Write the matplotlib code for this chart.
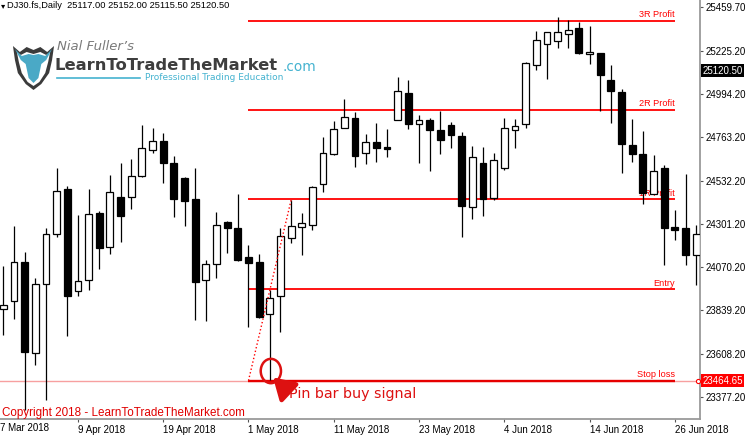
import matplotlib.pyplot as plt
from matplotlib.patches import Rectangle, Ellipse, Polygon
from matplotlib.transforms import blended_transform_factory

# DJ30 daily candles (one per trading day, left to right)
opens = [23847, 23890, 24098, 23612, 23980, 24247, 24488, 23943, 24002, 24360,
         24178, 24445, 24445, 24557, 24696, 24744, 24627, 24547, 24434, 24002,
         24087, 24312, 24280, 24125, 24098, 23820, 23916, 24226, 24285, 24296,
         24514, 24675, 24814, 24867, 24680, 24739, 24712, 24856, 25000, 24835,
         24856, 24803, 24830, 24771, 24392, 24627, 24440, 24600, 24803, 24835,
         25150, 25262, 25278, 25315, 25348, 25209, 25214, 25070, 25006, 24723,
         24675, 24461, 24600, 24285, 24280, 24135]
highs = [24077, 24290, 24151, 24012, 24280, 24600, 24504, 24349, 24488, 24370,
         24562, 24627, 24648, 24830, 24814, 24787, 24664, 24552, 24600, 24109,
         24365, 24317, 24461, 24189, 24141, 23948, 24280, 24429, 24360, 24504,
         24765, 24851, 24968, 24899, 24781, 24840, 24808, 25086, 25070, 24883,
         24867, 24904, 24846, 24792, 24717, 24712, 24680, 24867, 24862, 25166,
         25332, 25326, 25406, 25390, 25380, 25358, 25214, 25150, 25022, 24862,
         24797, 24669, 24616, 24376, 24568, 24296]
lows = [23708, 23794, 23308, 23548, 23361, 24231, 23703, 23916, 23948, 24060,
        24141, 24205, 24381, 24552, 24680, 24520, 24338, 24290, 23788, 23783,
        24012, 24146, 24103, 23751, 23799, 23470, 23724, 24199, 24135, 24269,
        24472, 24669, 24814, 24605, 24621, 24632, 24659, 24856, 24808, 24627,
        24584, 24675, 24707, 24231, 24328, 24344, 24429, 24589, 24707, 24814,
        25123, 25075, 25241, 25241, 25209, 25155, 24904, 24840, 24573, 24632,
        24408, 24461, 24082, 24216, 24082, 23975]
closes = [23868, 24098, 23617, 23980, 24247, 24477, 23916, 23996, 24354, 24173,
          24472, 24344, 24557, 24707, 24744, 24627, 24434, 24424, 23991, 24087,
          24296, 24280, 24109, 24093, 23805, 23906, 24237, 24290, 24306, 24498,
          24680, 24808, 24872, 24664, 24739, 24707, 24701, 25011, 24835, 24856,
          24803, 24749, 24776, 24397, 24659, 24434, 24643, 24814, 24824, 25161,
          25283, 25326, 25326, 25337, 25214, 25219, 25097, 25011, 24728, 24675,
          24466, 24584, 24280, 24269, 24135, 24247]

date_ticks = [8, 16, 24, 32, 40, 48, 56, 64]
date_labels = ["9 Apr 2018", "19 Apr 2018", "1 May 2018", "11 May 2018",
               "23 May 2018", "4 Jun 2018", "14 Jun 2018", "26 Jun 2018"]
first_label = "7 Mar 2018"
price_ticks = [25459.70, 25225.20, 24994.20, 24763.20, 24532.20,
               24301.20, 24070.20, 23839.20, 23608.20, 23377.20]

stop_loss = 23464.65
levels = [("Entry", 23952), ("1R Profit", 24432), ("2R Profit", 24910), ("3R Profit", 25385)]
level_start, level_end = 24, 64
pin_bar = 26
last_price = 25120.50
header = "DJ30.fs,Daily  25117.00 25152.00 25115.50 25120.50"

RED = "#ff0000"
SMALL = "Liberation Sans"

fig = plt.figure(figsize=(7.51, 4.36), dpi=100)
ax = fig.add_axes([0, 17 / 436, 700 / 751, 419 / 436])
ax.set_xlim(0.69, 66.36)
ax.set_ylim(23259.8, 25497.1)

# candles
for i, (o, h, l, c) in enumerate(zip(opens, highs, lows, closes)):
    x = i + 1
    ax.vlines(x, l, h, color="black", lw=0.9, zorder=3)
    face = "white" if c >= o else "black"
    ax.add_patch(Rectangle((x - 0.32, min(o, c)), 0.64, max(abs(c - o), 4),
                           facecolor=face, edgecolor="black", lw=0.9, zorder=4))

# trade levels
ax.axhline(stop_loss, color="#f7a0a0", lw=1.0, zorder=1)
ax.hlines(stop_loss, level_start, level_end, color="#e60000", lw=1.7, zorder=2)
ax.text(level_end, stop_loss + 8, "Stop loss", color=RED, ha="right", va="bottom",
        fontsize=6.6, family=SMALL, zorder=2)
for name, lev in levels:
    ax.hlines(lev, level_start, level_end, color=RED, lw=1.3, zorder=2)
    ax.text(level_end, lev + 8, name, color=RED, ha="right", va="bottom",
            fontsize=6.6, family=SMALL, zorder=2)

# dotted risk line from stop up to the 1R level
ax.plot([level_start, pin_bar + 2], [stop_loss, highs[pin_bar + 1]], ":",
        color=RED, lw=1.0, zorder=6)

# pin bar marker
ax.add_patch(Ellipse((pin_bar + 0.1, 23516), 1.9, 130, fill=False,
                     edgecolor="#dd1111", lw=1.8, zorder=7))
ax.annotate("", xy=(pin_bar + 0.3, 23482), xytext=(pin_bar + 1.75, 23405),
            arrowprops=dict(arrowstyle="-|>,head_width=0.55,head_length=0.9",
                            color="#dd1111", lw=3.2, mutation_scale=14,
                            shrinkA=0, shrinkB=0), zorder=8)
ax.text(pin_bar + 1.8, 23393, "Pin bar buy signal", color="#dd1111",
        fontsize=10.3, va="center", ha="left", zorder=8)

ax.text(0.003, 6 / 419, "Copyright 2018 - LearnToTradeTheMarket.com",
        transform=ax.transAxes, color="#e00000", fontsize=8.4, family=SMALL,
        ha="left", va="center", zorder=9)

# axes styling
for side in ["left", "top"]:
    ax.spines[side].set_visible(False)
for side in ["right", "bottom"]:
    ax.spines[side].set_color("#9a9a9a")
    ax.spines[side].set_linewidth(1.3)
ax.yaxis.tick_right()
ax.set_yticks(price_ticks)
ax.set_yticklabels([f"{p:.2f}" for p in price_ticks], family=SMALL, fontsize=7)
ax.set_xticks(date_ticks)
ax.set_xticklabels(date_labels, family=SMALL, fontsize=7, ha="left")
ax.tick_params(axis="y", length=2.5, pad=1.5, color="#555555")
ax.tick_params(axis="x", length=2.5, pad=1.5, color="#555555")
trans = blended_transform_factory(ax.transAxes, ax.transAxes)
ax.text(0.0, -0.0095, first_label, transform=trans, family=SMALL, fontsize=7,
        ha="left", va="top", clip_on=False)

# price boxes on the right scale
ytrans = blended_transform_factory(ax.transAxes, ax.transData)
ax.text(1.003, last_price, f"{last_price:.2f}", transform=ytrans, color="white",
        fontsize=7, family=SMALL, ha="left", va="center", clip_on=False,
        bbox=dict(boxstyle="square,pad=0.12", fc="black", ec="none"))
ax.text(1.003, stop_loss, f"{stop_loss:.2f}", transform=ytrans, color="white",
        fontsize=7, family=SMALL, ha="left", va="center", clip_on=False,
        bbox=dict(boxstyle="square,pad=0.12", fc="#ff0000", ec="none"))
ax.plot([0.997], [stop_loss], "o", transform=ytrans, ms=3, mfc="white",
        mec="#ff0000", mew=0.8, clip_on=False, zorder=9)

# header line
fig.text(1 / 751, 1 - 6 / 436, "\u25be", fontsize=6, va="center", ha="left")
fig.text(7 / 751, 1 - 6 / 436, header, fontsize=6.7, family=SMALL,
         va="center", ha="left")

# logo
fig.text(57 / 751, 1 - 47 / 436, "Nial Fuller\u2019s", fontsize=9.5, style="italic",
         color="#7a7a7a", va="center", ha="left")
fig.text(55 / 751, 1 - 66 / 436, "LearnToTradeTheMarket", fontsize=11.8,
         weight="bold", color="#3e3e3e", va="center", ha="left")
fig.text(283 / 751, 1 - 67 / 436, ".com", fontsize=9.8, color="#45b3d0",
         va="center", ha="left")
fig.add_artist(plt.Line2D([57 / 751, 140 / 751], [1 - 78 / 436, 1 - 78 / 436],
                          color="#45b3d0", lw=1.2))
fig.text(145 / 751, 1 - 78 / 436, "Professional Trading Education", fontsize=6.5,
         color="#45b3d0", va="center", ha="left")

icon = fig.add_axes([12 / 751, 1 - 90 / 436, 43 / 751, 50 / 436])
icon.set_xlim(0, 44)
icon.set_ylim(0, 50)
icon.axis("off")
icon.add_patch(Polygon([(1, 44), (8, 38), (15, 43), (22, 40), (29, 43), (36, 38),
                        (43, 44), (41, 30), (38, 17), (30, 6), (22, 0), (14, 6),
                        (6, 17), (3, 30)], closed=True, fc="#3b3b3b", ec="none"))
icon.add_patch(Polygon([(5, 38), (9, 35), (15, 38), (22, 36), (29, 38), (35, 35),
                        (39, 38), (37, 28), (34, 17), (28, 8), (22, 4), (16, 8),
                        (10, 17), (7, 28)], closed=True, fc="white", ec="none"))
icon.add_patch(Polygon([(3, 41), (10, 34), (17, 36), (22, 35), (27, 36), (34, 34),
                        (41, 41), (35, 30), (30, 26), (27, 12), (22, 7), (17, 12),
                        (14, 26), (9, 30)], closed=True, fc="#4aa9c6", ec="none"))

fig.savefig("out.png", dpi=100)
